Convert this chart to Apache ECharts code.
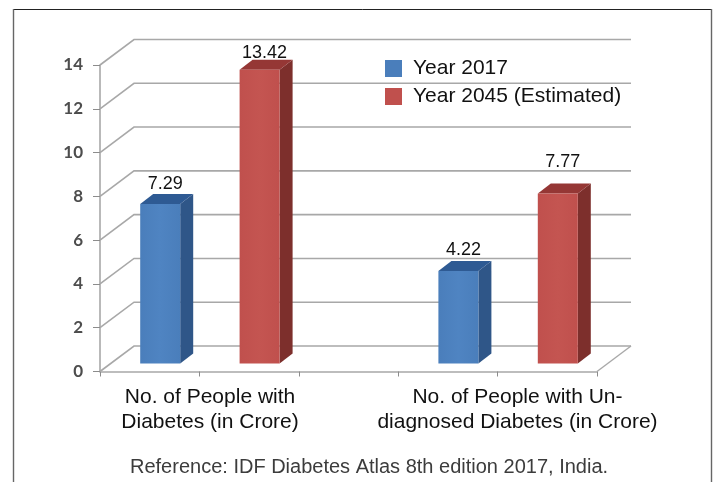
<!DOCTYPE html>
<html>
<head>
<meta charset="utf-8">
<style>html,body{margin:0;padding:0;background:#fff}#chart{width:718px;height:482px}</style>
<script src="https://cdn.jsdelivr.net/npm/echarts@6/dist/echarts.min.js"></script>
</head>
<body>
<div id="chart"></div>
<script>
// Diabetes burden in India, 2017 and the estimate for 2045
const groupNames = ['No. of People with\nDiabetes (in Crore)', 'No. of People with Un-\ndiagnosed Diabetes (in Crore)'];
const seriesNames = ['Year 2017', 'Year 2045 (Estimated)'];
const year2017 = [7.29, 4.22];
const year2045 = [13.42, 7.77];
const yTicks = [0, 2, 4, 6, 8, 10, 12, 14];
const sourceNote = 'Reference: IDF Diabetes Atlas 8th edition 2017, India.';

// The horizontal axis runs over five slots: each bar takes one, with an empty slot between groups
const slots2017 = [0.5, 3.5];
const slots2045 = [1.5, 4.5];
const groupLabelAt = [1.107, 4.2];
const slotCount = 5;

// Extra room between a bar and its value label, in pixels
const labelRaise2017 = [0, 1];
const labelRaise2045 = [-3, 11];

// Fake-3D projection, in pixels
const wallDx = 34, wallDy = -25.5;      // floor depth, front edge to back wall
const barDx = 10.5, barDy = -8;         // bar front face relative to the floor's front edge
const sideDx = 13, sideDy = -10;        // depth of a bar
const halfBar = 20;

const colors = {
  blue: { front: '#4a7ebb', light: '#4f84c2', side: '#2f5688', top: '#2e5a93' },
  red: { front: '#c0504d', light: '#c45551', side: '#7d2f2c', top: '#953735' }
};
const gridColor = '#a8a8a8';
const textFont = '"Liberation Sans", Arial, sans-serif';

function poly(points, fill) {
  return { type: 'polygon', shape: { points }, style: { fill } };
}

function barRenderer(palette, raises) {
  return function (params, api) {
    const slot = api.value(0), val = api.value(1);
    const base = api.coord([slot, 0]);
    const top = api.coord([slot, val]);
    const xl = base[0] + barDx - halfBar, xr = base[0] + barDx + halfBar;
    const yb = base[1] + barDy, yt = top[1] + barDy;
    return {
      type: 'group',
      children: [
        poly([[xr, yt], [xr + sideDx, yt + sideDy], [xr + sideDx, yb + sideDy], [xr, yb]], palette.side),
        poly([[xl, yt], [xl + sideDx, yt + sideDy], [xr + sideDx, yt + sideDy], [xr, yt]], palette.top),
        {
          type: 'rect',
          shape: { x: xl, y: yt, width: xr - xl, height: yb - yt },
          style: {
            fill: new echarts.graphic.LinearGradient(0, 0, 1, 0, [
              { offset: 0, color: palette.front },
              { offset: 0.5, color: palette.light },
              { offset: 1, color: palette.front }
            ])
          }
        },
        {
          type: 'text',
          style: {
            text: val.toFixed(2),
            x: base[0] + barDx + 5,
            y: yt + sideDy - 1 - raises[params.dataIndex],
            align: 'center',
            verticalAlign: 'bottom',
            fill: '#111',
            font: '18px ' + textFont
          }
        }
      ]
    };
  };
}

// Gridlines on the side and back walls, one for each tick value
function wallRenderer(params, api) {
  const v = api.value(0);
  const a = api.coord([0, v]);
  const b = api.coord([slotCount, v]);
  return {
    type: 'polyline',
    shape: { points: [[a[0], a[1]], [a[0] + wallDx, a[1] + wallDy], [b[0] + wallDx, b[1] + wallDy]] },
    style: { stroke: gridColor, lineWidth: 1.6, fill: null }
  };
}

// Right-hand edge of the floor
function floorEdgeRenderer(params, api) {
  const a = api.coord([slotCount, api.value(0)]);
  return {
    type: 'line',
    shape: { x1: a[0], y1: a[1], x2: a[0] + wallDx, y2: a[1] + wallDy },
    style: { stroke: gridColor, lineWidth: 1.4 }
  };
}

const chart = echarts.init(document.getElementById('chart'), null, { renderer: 'canvas' });
chart.setOption({
  animation: false,
  backgroundColor: '#fff',
  title: {
    text: sourceNote,
    left: 125,
    top: 452,
    textStyle: { fontFamily: textFont, fontSize: 20, fontWeight: 'normal', color: '#3c3c3c' }
  },
  legend: {
    left: 380,
    top: 53,
    orient: 'vertical',
    itemWidth: 17,
    itemHeight: 17,
    itemGap: 7,
    icon: 'rect',
    data: seriesNames,
    textStyle: { fontFamily: textFont, fontSize: 21, color: '#111', padding: [2, 0, 0, 6] },
    selectedMode: false
  },
  grid: { left: 100, right: 121, top: 65, bottom: 110.5 },
  xAxis: {
    type: 'value',
    min: 0,
    max: slotCount,
    interval: 1,
    splitLine: { show: false },
    axisLine: { lineStyle: { color: gridColor, width: 1.6 } },
    axisTick: { length: 5, lineStyle: { color: '#8c8c8c', width: 1 }, inside: false },
    axisLabel: {
      customValues: groupLabelAt,
      margin: 13,
      lineHeight: 25,
      color: '#111',
      fontFamily: textFont,
      fontSize: 21,
      formatter: v => groupNames[groupLabelAt.indexOf(v)] || ''
    }
  },
  yAxis: {
    type: 'value',
    min: 0,
    max: 14,
    interval: 2,
    splitLine: { show: false },
    axisLine: { show: true, lineStyle: { color: gridColor, width: 1.6 } },
    axisTick: { show: true, length: 7, lineStyle: { color: '#8c8c8c', width: 1 } },
    axisLabel: {
      margin: 17,
      color: '#4d4d4d',
      fontFamily: 'Lato, "Open Sans", sans-serif',
      fontWeight: 'bold',
      fontSize: 17,
      padding: [3, 0, 0, 0]
    }
  },
  graphic: [
    // Outer frame around the figure, open at the bottom
    { type: 'line', silent: true, shape: { x1: 13, y1: 9.5, x2: 711.5, y2: 9.5 }, style: { stroke: '#222', lineWidth: 1 } },
    { type: 'line', silent: true, shape: { x1: 13.5, y1: 9, x2: 13.5, y2: 482 }, style: { stroke: '#666', lineWidth: 1.4 } },
    { type: 'line', silent: true, shape: { x1: 711.5, y1: 9, x2: 711.5, y2: 482 }, style: { stroke: '#666', lineWidth: 1.4 } }
  ],
  series: [
    {
      type: 'custom', name: 'walls', z: 1, clip: false, silent: true,
      coordinateSystem: 'cartesian2d', encode: { x: 1, y: 0 },
      data: yTicks.map(v => [v, 0]),
      renderItem: wallRenderer
    },
    {
      type: 'custom', name: 'floor', z: 1, clip: false, silent: true,
      coordinateSystem: 'cartesian2d', encode: { x: 1, y: 0 },
      data: [[0, 0]],
      renderItem: floorEdgeRenderer
    },
    {
      type: 'custom', name: seriesNames[0], z: 3, clip: false,
      itemStyle: { color: colors.blue.front },
      coordinateSystem: 'cartesian2d', encode: { x: 0, y: 1 },
      data: year2017.map((v, i) => [slots2017[i], v]),
      renderItem: barRenderer(colors.blue, labelRaise2017)
    },
    {
      type: 'custom', name: seriesNames[1], z: 3, clip: false,
      itemStyle: { color: colors.red.front },
      coordinateSystem: 'cartesian2d', encode: { x: 0, y: 1 },
      data: year2045.map((v, i) => [slots2045[i], v]),
      renderItem: barRenderer(colors.red, labelRaise2045)
    }
  ]
});
</script>
</body>
</html>
